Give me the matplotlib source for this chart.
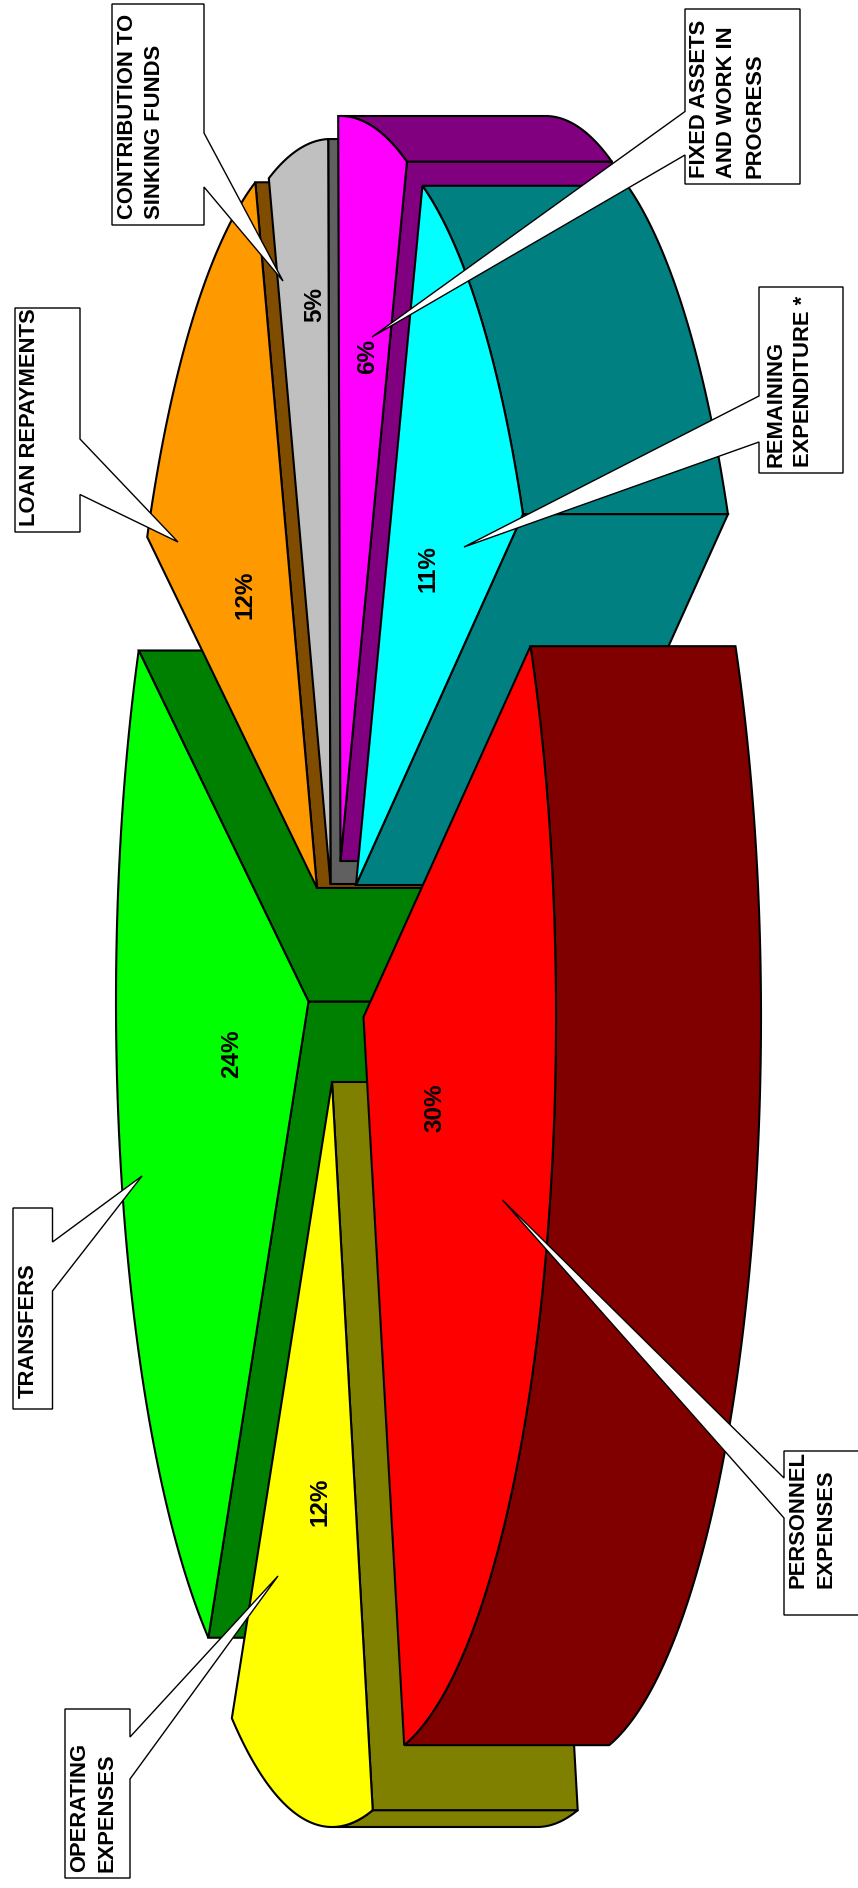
import numpy as np
import matplotlib
matplotlib.use('Agg')
import matplotlib.pyplot as plt
from matplotlib.patches import Polygon

plt.rcParams['font.family'] = ['Liberation Sans', 'DejaVu Sans']

# clockwise from the personnel slice
names = ['PERSONNEL\nEXPENSES', 'OPERATING\nEXPENSES', 'TRANSFERS', 'LOAN REPAYMENTS',
         'CONTRIBUTION TO\nSINKING FUNDS', 'FIXED ASSETS\nAND WORK IN\nPROGRESS',
         'REMAINING\nEXPENDITURE *']
shares = [29.9, 12.1, 24.1, 12.0, 5.0, 5.8, 11.1]
top_colors = ['#ff0000', '#ffff00', '#00ff00', '#ff9900', '#c0c0c0', '#ff00ff', '#00ffff']
side_colors = ['#800000', '#808000', '#008000', '#804c00', '#606060', '#800080', '#008080']

# where each exploded slice has its point, in pixels
apex_x = [363.5, 332, 308.5, 317, 330.5, 340.5, 356]
apex_y = [1017, 1082, 1001.5, 888, 884, 861, 885]

# percent label centres
pct_x = [434.5, 319.5, 231.5, 245, 315, 367.5, 428]
pct_y = [1108, 1502, 1054, 595, 304, 357, 569]

# callouts: box x0, x1, y0, y1 / pointer base on the box side / pointer tip
box_x0 = [784, 65, 13, 15, 112, 685, 759]
box_x1 = [880, 130, 52.5, 80, 204, 800, 843]
box_y0 = [1451, 1709, 1208, 308, 4, 9, 287]
box_y1 = [1615, 1878, 1409, 532, 225, 184, 473]
base_y0 = [1478, 1737, 1242, 439, 133, 111.5, 396]
base_y1 = [1518, 1779, 1291, 494.5, 187, 155, 442]
tip_x = [502.5, 278, 142, 178, 283, 372, 464]
tip_y = [1200, 1576, 1176, 542, 281, 337, 547]
label_x = [812, 93.5, 28, 30, 141, 727, 790]
label_y = [1588, 1872, 1398, 526, 219, 178, 467]

a = 192.5
b = 745
depth = 205
start = -29.85
draw_order = [2, 3, 4, 5, 6, 1, 0]
lw = 1.5

fig = plt.figure(figsize=(8.58, 18.88), dpi=100)
ax = fig.add_axes([0, 0, 1, 1])
ax.set_xlim(0, 858)
ax.set_ylim(1888, 0)
ax.axis('off')


def add_face(pts, color):
    ax.add_patch(Polygon(pts, closed=True, facecolor=color, edgecolor='black',
                         linewidth=lw, joinstyle='miter'))


edges = start + np.cumsum([0] + shares) * 3.6

for i in draw_order:
    t0, t1 = np.radians(edges[i]), np.radians(edges[i + 1])
    cx, cy = apex_x[i], apex_y[i]
    t = np.linspace(t0, t1, 200)
    xs = cx + a * np.cos(t)
    ys = cy + b * np.sin(t)
    rim = np.column_stack([xs, ys])

    # outer wall, only the part facing the viewer
    keep = np.cos(t) > 0
    if keep.any():
        front = rim[keep]
        add_face(np.vstack([front, front[::-1] + [depth, 0]]), side_colors[i])

    # cut faces
    if np.sin(t0) > 0:
        p = rim[0]
        add_face([(cx, cy), p, p + [depth, 0], (cx + depth, cy)], side_colors[i])
    if np.sin(t1) < 0:
        p = rim[-1]
        add_face([(cx, cy), p, p + [depth, 0], (cx + depth, cy)], side_colors[i])

    add_face(np.vstack([[cx, cy], rim]), top_colors[i])

for i in range(len(shares)):
    ax.text(pct_x[i], pct_y[i], f'{shares[i]:.0f}%', rotation=90, ha='center', va='center',
            fontsize=17.5, fontweight='bold', color='black')

for i in range(len(names)):
    x0, x1, y0, y1 = box_x0[i], box_x1[i], box_y0[i], box_y1[i]
    # pointer leaves from the side of the box that faces the pie
    if tip_x[i] > x1:
        pts = [(x0, y0), (x1, y0), (x1, base_y0[i]), (tip_x[i], tip_y[i]), (x1, base_y1[i]),
               (x1, y1), (x0, y1)]
    else:
        pts = [(x0, y0), (x1, y0), (x1, y1), (x0, y1), (x0, base_y1[i]),
               (tip_x[i], tip_y[i]), (x0, base_y0[i])]
    ax.add_patch(Polygon(pts, closed=True, facecolor='white', edgecolor='black',
                         linewidth=1.0, joinstyle='miter', clip_on=True))
    ax.text(label_x[i], label_y[i], names[i], rotation=90, ha='center', va='bottom',
            multialignment='left', fontsize=15.8, fontweight='bold', color='black',
            linespacing=1.42)

fig.savefig('out.png', dpi=100)
